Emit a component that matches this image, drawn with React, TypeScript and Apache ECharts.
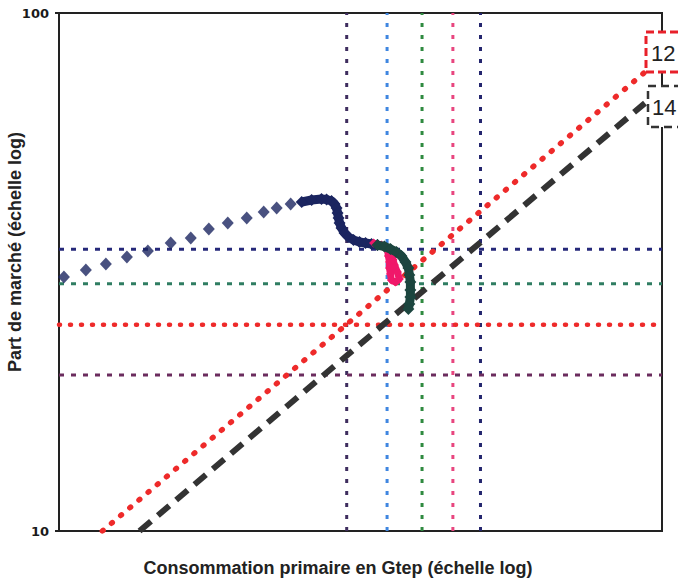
import { useEffect, useRef } from "react";
import * as echarts from "echarts";

// Axis ranges (log scales)
const xRange = [1, 10];
const yRange = [10, 100];
const yTickLabels = ["10", "100"];

// Reference lines
const vLines = [3, 3.5, 4, 4.5, 5];
const vColors = ["#3e2d5e", "#3f86e0", "#2f8a40", "#e8467f", "#24266e"];
const hLines = [35, 30, 25, 20];
const hColors = ["#26297a", "#2f7d62", "#ee2a2a", "#6b2c5e"];

// Diagonal trend lines
const redTrend = [[1.18, 10], [9.37, 76.9]];
const blackTrend = [[1.36, 10], [9.37, 67.0]];

// Market share trajectory
const navySparse = [
  [1.019, 30.93], [1.108, 31.91], [1.196, 32.77], [1.296, 33.81], [1.404, 34.72],
  [1.532, 35.97], [1.654, 36.77], [1.772, 38.28], [1.905, 39.32], [2.048, 40.2],
  [2.185, 41.29], [2.296, 42.03], [2.422, 42.79],
];
const navyDense = [
  [2.526, 43.17], [2.624, 43.55], [2.725, 43.74], [2.778, 43.65], [2.831, 43.36],
  [2.864, 42.79], [2.886, 42.03], [2.897, 41.11], [2.908, 40.2], [2.919, 39.32],
  [2.941, 38.46], [2.975, 37.62], [3.021, 36.94], [3.079, 36.46], [3.15, 36.13],
  [3.223, 35.97], [3.298, 35.81], [3.374, 35.65],
];
const pinkPts = [
  [3.324, 35.97], [3.425, 35.65], [3.505, 34.87], [3.518, 33.95], [3.532, 33.06],
  [3.532, 32.2], [3.545, 31.35], [3.558, 30.52], [3.614, 30.25], [3.669, 30.65],
  [3.641, 31.62], [3.6, 32.62], [3.58, 33.4], [3.56, 34.2],
];
const greenDense = [
  [3.374, 35.65], [3.465, 35.42], [3.545, 35.03], [3.627, 34.56], [3.697, 33.95],
  [3.754, 33.06], [3.797, 32.2], [3.811, 31.21], [3.826, 30.25], [3.826, 29.19],
  [3.826, 28.29], [3.811, 27.43], [3.797, 26.83],
];

const boxLabels = ["12", "14"];

const FONT = "'Liberation Sans', Arial, sans-serif";
const NAVY = "#1b2560";

export default function App() {
  const ref = useRef<HTMLDivElement>(null);
  useEffect(() => {
    document.body.style.margin = "0";
    const chart = echarts.init(ref.current!, null, { renderer: "svg" });

    const refSeries: any[] = [];
    vLines.forEach((v, i) => {
      refSeries.push({
        type: "line",
        data: [[v, yRange[0]], [v, yRange[1]]],
        symbol: "none",
        silent: true,
        z: 1,
        lineStyle: { color: vColors[i], width: 3, type: [4, 8] },
      });
    });
    hLines.forEach((h, i) => {
      refSeries.push({
        type: "line",
        data: [[xRange[0], h], [xRange[1], h]],
        symbol: "none",
        silent: true,
        z: 1,
        lineStyle: i === 2
          ? { color: hColors[i], width: 4.5, type: [1, 10], cap: "round" }
          : { color: hColors[i], width: 3, type: [5, 7] },
      });
    });

    chart.setOption({
      animation: false,
      backgroundColor: "#ffffff",
      grid: {
        left: 59, right: 16, top: 13, bottom: 54,
        show: true, borderColor: "#222", borderWidth: 2, backgroundColor: "transparent",
      },
      xAxis: {
        type: "log", logBase: 10, min: xRange[0], max: xRange[1],
        axisLine: { show: false }, axisTick: { show: false },
        axisLabel: { show: false }, splitLine: { show: false },
      },
      yAxis: {
        type: "log", logBase: 10, min: yRange[0], max: yRange[1],
        axisLine: { show: false },
        axisTick: { show: true, length: 4, lineStyle: { color: "#222", width: 2 } },
        splitLine: { show: false },
        axisLabel: {
          margin: 10, fontSize: 13, fontWeight: "bold", color: "#1a1a1a",
          fontFamily: "'DejaVu Sans', sans-serif",
          formatter: (v: number) => (v <= 10 ? yTickLabels[0] : yTickLabels[1]),
        },
      },
      series: [
        ...refSeries,
        {
          type: "line", data: redTrend, symbol: "none", silent: true, z: 2,
          lineStyle: { color: "#ee2a2a", width: 5.5, type: [1, 11], cap: "round" },
        },
        {
          type: "line", data: blackTrend, symbol: "none", silent: true, z: 2,
          lineStyle: { color: "#333", width: 6, type: [15, 9] },
        },
        {
          type: "scatter", data: navySparse, symbol: "diamond", symbolSize: [12, 13], z: 3,
          itemStyle: { color: NAVY },
        },
        {
          type: "line", data: navyDense, symbol: "diamond", symbolSize: 12, z: 3,
          itemStyle: { color: NAVY }, lineStyle: { color: NAVY, width: 9 },
        },
        {
          type: "line", data: pinkPts, symbol: "diamond", symbolSize: 9, z: 4,
          itemStyle: { color: "#f0186a" }, lineStyle: { color: "#f0186a", width: 7 },
        },
        {
          type: "line", data: greenDense, symbol: "diamond", symbolSize: 12, z: 5,
          itemStyle: { color: "#1c463f" }, lineStyle: { color: "#1c463f", width: 9 },
        },
      ],
      graphic: [
        {
          type: "text", x: 15, y: 252, rotation: Math.PI / 2,
          style: {
            text: "Part de marché (échelle log)", fontSize: 18, fontWeight: "bold",
            fontFamily: FONT, fill: "#222", textAlign: "center", textVerticalAlign: "middle",
          },
        },
        {
          type: "text", x: 338, y: 568,
          style: {
            text: "Consommation primaire en Gtep (échelle log)", fontSize: 18, fontWeight: "bold",
            fontFamily: FONT, fill: "#222", textAlign: "center", textVerticalAlign: "middle",
          },
        },
        {
          type: "rect", shape: { x: 646, y: 32, width: 50, height: 40 }, z: 10,
          style: { fill: "#fff", stroke: "#e8202a", lineWidth: 3, lineDash: [8, 4] },
        },
        {
          type: "text", x: 651, y: 53, z: 11,
          style: {
            text: boxLabels[0], fontSize: 22, fontFamily: FONT, fill: "#222",
            textVerticalAlign: "middle",
          },
        },
        {
          type: "rect", shape: { x: 648, y: 86, width: 50, height: 41 }, z: 10,
          style: { fill: "#fff", stroke: "#333", lineWidth: 2.5, lineDash: [8, 5] },
        },
        {
          type: "text", x: 652, y: 107, z: 11,
          style: {
            text: boxLabels[1], fontSize: 22, fontFamily: FONT, fill: "#222",
            textVerticalAlign: "middle",
          },
        },
      ],
    });
    return () => chart.dispose();
  }, []);
  return <div ref={ref} style={{ width: 678, height: 585 }} />;
}
